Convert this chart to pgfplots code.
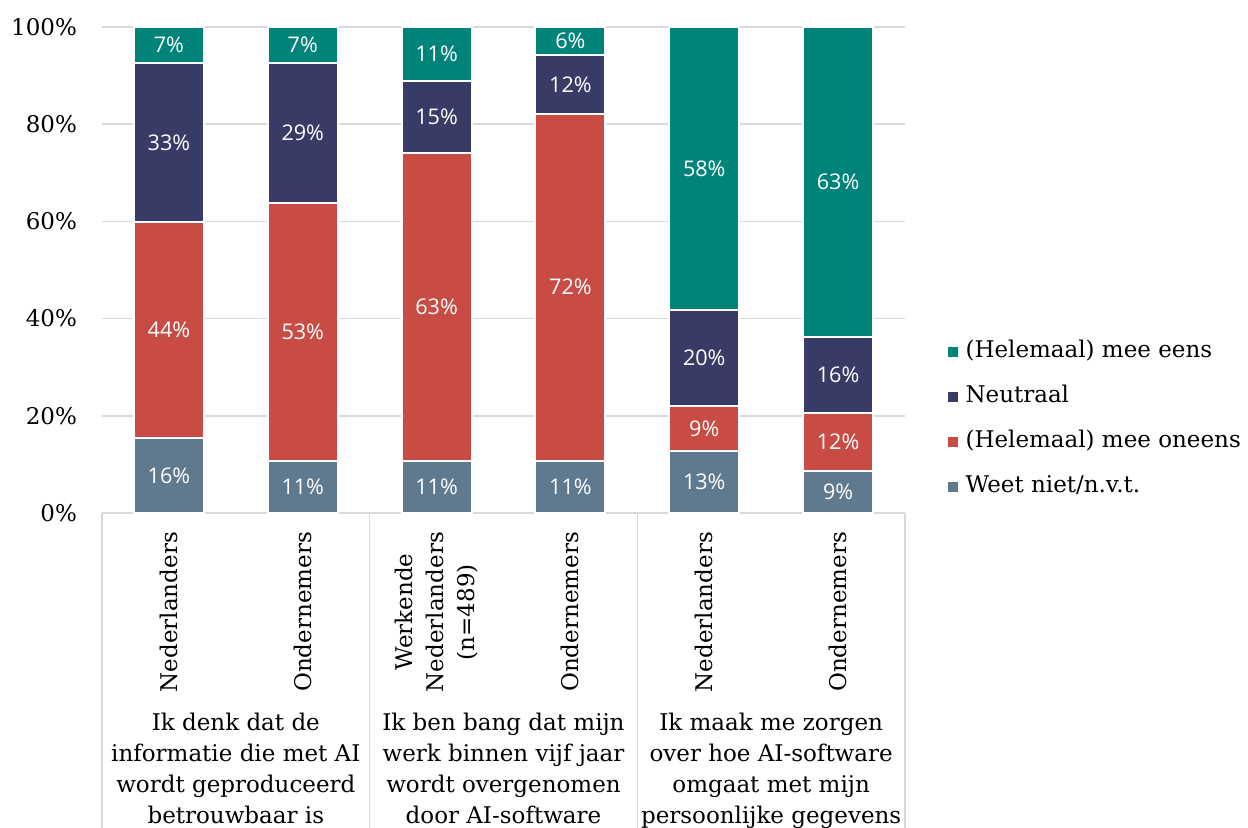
\documentclass[border=0pt]{standalone}
\usepackage{pgfplots}
\pgfplotsset{compat=1.18}
\usepackage{pgfplotstable}
\usepackage{fontspec}
\setmainfont{DejaVu Serif}
\newfontfamily\labfont{Open Sans}
\definecolor{cTeal}{HTML}{00847A}
\definecolor{cNavy}{HTML}{393B67}
\definecolor{cRed}{HTML}{C94C44}
\definecolor{cSlate}{HTML}{5F7A8F}
\definecolor{cGrid}{HTML}{D9D9D9}

\pgfplotstableread{
x w lw r lr n ln t lt
0 15.5 16 44.4 44 32.7 33 7.4 7
1 10.7 11 53.1 53 28.8 29 7.4 7
2 10.7 11 63.4 63 14.8 15 11.1 11
3 10.7 11 71.5 72 12.0 12 5.8 6
4 12.8 13 9.2 9 19.8 20 58.2 58
5 8.6 9 12.0 12 15.6 16 63.8 63
}\data

\newcommand{\serif}{\fontsize{11.5}{15.5}\selectfont}

\begin{document}
\begin{tikzpicture}
\begin{axis}[
  at={(0pt,0pt)}, anchor=south west,
  scale only axis, width=401.5pt, height=243pt,
  ybar stacked, bar width=35pt,
  xmin=-0.5, xmax=5.5, ymin=0, ymax=100,
  clip=false,
  axis line style={draw=none},
  major tick length=0pt,
  ymajorgrids, major grid style={cGrid, line width=0.75pt},
  ytick={0,20,40,60,80,100},
  yticklabels={0\%,20\%,40\%,60\%,80\%,100\%},
  yticklabel style={font=\serif, xshift=-9pt},
  xtick={0,1,2,3,4,5},
  xticklabels={Nederlanders,Ondernemers,{Werkende\\Nederlanders\\(n=489)},Ondernemers,Nederlanders,Ondernemers},
  xticklabel style={font=\serif, yshift=-6pt, rotate=90, anchor=east, align=center},
  point meta=explicit symbolic,
  nodes near coords={\pgfplotspointmeta\%},
  every node near coord/.append style={font=\labfont\fontsize{10.8}{12}\selectfont, text=white, anchor=center},
  reverse legend,
  legend cell align=left,
  legend image code/.code={\fill[#1, draw=none] (0pt,-2.5pt) rectangle (5pt,2.5pt);},
  legend style={at={(1.045,0.192)}, anchor=west, draw=none, fill=none, font=\serif,
    row sep=12pt, nodes={inner ysep=0pt, inner xsep=4pt, text height=8pt, text depth=2.5pt}},
]
\addplot[fill=cSlate, draw=white, line width=1pt, visualization depends on={\thisrow{w} \as \segv}] table[x=x, y=w, meta=lw] {\data};
\addplot[fill=cRed, draw=white, line width=1pt, visualization depends on={\thisrow{r} \as \segv}] table[x=x, y=r, meta=lr] {\data};
\addplot[fill=cNavy, draw=white, line width=1pt, visualization depends on={\thisrow{n} \as \segv}] table[x=x, y=n, meta=ln] {\data};
\addplot[fill=cTeal, draw=white, line width=1pt, visualization depends on={\thisrow{t} \as \segv}] table[x=x, y=t, meta=lt] {\data};
\legend{Weet niet/n.v.t.,(Helemaal) mee oneens,Neutraal,(Helemaal) mee eens}

\draw[cGrid, line width=0.75pt] (axis cs:-0.5,0) -- (axis cs:5.5,0);
\draw[cGrid, line width=0.75pt] (axis cs:-0.5,0) -- (axis cs:-0.5,-70);
\draw[cGrid, line width=0.75pt] (axis cs:1.5,0) -- (axis cs:1.5,-70);
\draw[cGrid, line width=0.75pt] (axis cs:3.5,0) -- (axis cs:3.5,-70);
\draw[cGrid, line width=0.75pt] (axis cs:5.5,0) -- (axis cs:5.5,-70);
\node[anchor=north, align=center, font=\serif, inner sep=0pt] at (axis cs:0.5,-41) {Ik denk dat de\\informatie die met AI\\wordt geproduceerd\\betrouwbaar is};
\node[anchor=north, align=center, font=\serif, inner sep=0pt] at (axis cs:2.5,-41) {Ik ben bang dat mijn\\werk binnen vijf jaar\\wordt overgenomen\\door AI-software};
\node[anchor=north, align=center, font=\serif, inner sep=0pt] at (axis cs:4.5,-41) {Ik maak me zorgen\\over hoe AI-software\\omgaat met mijn\\persoonlijke gegevens};
\end{axis}
\pgfresetboundingbox
\path[use as bounding box] (-51pt,-157pt) rectangle (573pt,256.5pt);
\end{tikzpicture}
\end{document}
